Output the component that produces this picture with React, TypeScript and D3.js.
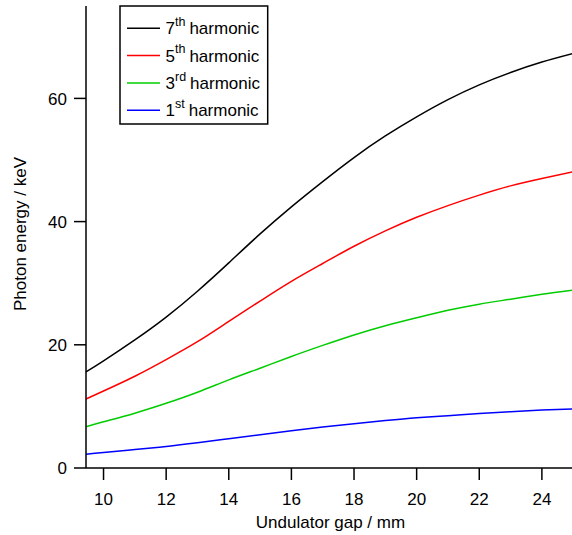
import React from "react";
import * as d3 from "d3";

const gaps = [9.44, 10, 11, 12, 13, 14, 15, 16, 17, 18, 19, 20, 21, 22, 23, 24, 25];
const harmonic7 = [15.6, 17.4, 20.8, 24.5, 28.7, 33.3, 38.0, 42.4, 46.5, 50.4, 53.9, 57.0, 59.8, 62.2, 64.2, 65.9, 67.3];
const harmonic5 = [11.2, 12.5, 14.9, 17.6, 20.5, 23.8, 27.1, 30.3, 33.2, 36.0, 38.5, 40.7, 42.6, 44.3, 45.8, 47.0, 48.1];
const harmonic3 = [6.7, 7.5, 8.9, 10.5, 12.3, 14.3, 16.2, 18.1, 19.9, 21.6, 23.1, 24.4, 25.6, 26.6, 27.4, 28.2, 28.9];
const harmonic1 = [2.25, 2.5, 3.0, 3.5, 4.1, 4.75, 5.4, 6.05, 6.65, 7.2, 7.7, 8.15, 8.5, 8.85, 9.15, 9.4, 9.6];

const xTicks = [10, 12, 14, 16, 18, 20, 22, 24];
const yTicks = [0, 20, 40, 60];

const seriesNames = ["7", "5", "3", "1"];
const seriesSups = ["th", "th", "rd", "st"];
const seriesColors = ["#000000", "#ff0000", "#00cc00", "#0000ff"];
const seriesValues = [harmonic7, harmonic5, harmonic3, harmonic1];

const xLabel = "Undulator gap / mm";
const yLabel = "Photon energy / keV";

export default function App() {
  const W = 572;
  const H = 535;
  const left = 86;
  const bottom = 468;
  const top = 6;
  const x = d3.scaleLinear().domain([9.44, 25]).range([left, 573.2]);
  const y = d3.scaleLinear().domain([0, 75]).range([bottom, top]);
  const font = "Arial, 'Liberation Sans', Helvetica, sans-serif";
  const tick = 12;

  const line = d3
    .line<[number, number]>()
    .x((d) => x(d[0]))
    .y((d) => y(d[1]))
    .curve(d3.curveNatural);

  const legendRows = [28.3, 55.6, 83, 110.3];

  return (
    <svg
      width={W}
      height={H}
      style={{ position: "absolute", left: 0, top: 0, background: "#fff" }}
      fontFamily={font}
    >
      <rect x={0} y={0} width={W} height={H} fill="#fff" />
      {seriesValues.map((vals, i) => (
        <path
          key={i}
          d={line(gaps.map((g, j) => [g, vals[j]]))!}
          fill="none"
          stroke={seriesColors[i]}
          strokeWidth={1.5}
        />
      ))}
      <line x1={left} x2={left} y1={top} y2={bottom} stroke="#000" strokeWidth={1.5} />
      <line x1={left} x2={W} y1={bottom} y2={bottom} stroke="#000" strokeWidth={1.5} />
      {yTicks.map((t) => (
        <g key={"y" + t}>
          <line x1={left - tick} x2={left} y1={y(t)} y2={y(t)} stroke="#000" strokeWidth={1.5} />
          <text x={67} y={y(t)} dy="0.36em" textAnchor="end" fontSize={17} fill="#000">
            {t}
          </text>
        </g>
      ))}
      {xTicks.map((t) => (
        <g key={"x" + t}>
          <line x1={x(t)} x2={x(t)} y1={bottom} y2={bottom + tick} stroke="#000" strokeWidth={1.5} />
          <text x={x(t)} y={505} textAnchor="middle" fontSize={17} fill="#000">
            {t}
          </text>
        </g>
      ))}
      <text x={330.5} y={528} textAnchor="middle" fontSize={17} fill="#000">
        {xLabel}
      </text>
      <text
        transform={`translate(25.5,234) rotate(-90)`}
        textAnchor="middle"
        fontSize={17}
        fill="#000"
      >
        {yLabel}
      </text>
      <rect x={120} y={6} width={147.7} height={118} fill="#fff" stroke="#000" strokeWidth={1.5} />
      {seriesNames.map((n, i) => (
        <g key={"l" + i}>
          <line
            x1={127}
            x2={160}
            y1={legendRows[i]}
            y2={legendRows[i]}
            stroke={seriesColors[i]}
            strokeWidth={1.5}
          />
          <text x={165.5} y={legendRows[i] + 6} fontSize={17} fill="#000">
            {n}
            <tspan fontSize={12.5} dy={-8.5}>
              {seriesSups[i]}
            </tspan>
            <tspan dy={8.5} dx={4}>harmonic</tspan>
          </text>
        </g>
      ))}
    </svg>
  );
}
